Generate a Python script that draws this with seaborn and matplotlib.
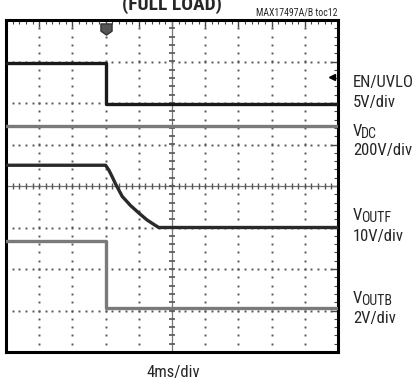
#!/usr/bin/env python3
# Scope capture: EN/UVLO, VDC, VOUTF and VOUTB at shutdown (full load).
import numpy as np
import matplotlib
matplotlib.use("Agg")
import matplotlib.pyplot as plt
from matplotlib import font_manager
from matplotlib.path import Path
import seaborn as sns

# Traces in screen divisions (x: -5..5 div at 4ms/div, y: -4..4 div)
EN_T = [-5.0, -2.0, -2.0, 5.0]
EN_Y = [2.97, 2.97, 1.97, 1.97]

VDC_T = [-5.0, 5.0]
VDC_Y = [1.45, 1.45]

VOUTF_T = [-5.0, -2.0, -1.9, -1.8, -1.7, -1.5, -1.25, -1.0, -0.75, -0.5, -0.4, 5.0]
VOUTF_Y = [0.5, 0.5, 0.38, 0.22, 0.05, -0.25, -0.47, -0.65, -0.82, -0.95, -1.0, -1.0]

VOUTB_T = [-5.0, -2.0, -2.0, 5.0]
VOUTB_Y = [-1.33, -1.33, -2.95, -2.95]

TRIGGER_T = -2.0

sns.set_style("white")
names = {f.name for f in font_manager.fontManager.ttflist}
NARROW = "Liberation Sans"
for cand in ("Roboto Condensed", "Liberation Sans Narrow", "Archivo Narrow",
             "Barlow Semi Condensed", "Asap Condensed"):
    if cand in names:
        NARROW = cand
        break
plt.rcParams["font.family"] = [NARROW, "DejaVu Sans"]

W, H = 417, 384
fig = plt.figure(figsize=(W / 100, H / 100), dpi=100)
L, R, T, B = 6, 338, 20, 352
ax = fig.add_axes([L / W, 1 - B / H, (R - L) / W, (B - T) / H])
ax.set_xlim(-5, 5)
ax.set_ylim(-4, 4)

# dotted graticule
sub_y = np.arange(-4, 4.001, 0.2)
sub_x = np.arange(-5, 5.001, 0.2)
for gx in range(-4, 5):
    if gx == 0:
        continue
    ax.plot(np.full_like(sub_y, gx), sub_y, ls="none", marker="s",
            ms=1.4, mew=0, color="#555555", zorder=1)
for gy in range(-3, 4):
    if gy == 0:
        continue
    ax.plot(sub_x, np.full_like(sub_x, gy), ls="none", marker="s",
            ms=1.4, mew=0, color="#555555", zorder=1)

# centre axes with tick marks
ax.axvline(0, color="#777777", lw=0.9, zorder=1)
ax.axhline(0, color="#777777", lw=0.9, zorder=1)
ax.plot(np.zeros_like(sub_y), sub_y, ls="none", marker="_", ms=5,
        mew=1.2, color="#555555", zorder=1)
ax.plot(sub_x, np.zeros_like(sub_x), ls="none", marker="|", ms=5,
        mew=1.0, color="#555555", zorder=1)

# edge ticks
ax.set_xticks(range(-5, 6))
ax.set_yticks(range(-4, 5))
ax.set_xticks(sub_x, minor=True)
ax.set_yticks(sub_y, minor=True)
ax.tick_params(which="both", direction="in", top=True, right=True,
               labelbottom=False, labelleft=False, color="#444444")
ax.tick_params(which="major", length=5, width=1.0)
ax.tick_params(which="minor", length=3, width=0.8)
for s in ax.spines.values():
    s.set_linewidth(2.2)
    s.set_color("black")

# traces
sns.lineplot(x=VDC_T, y=VDC_Y, estimator=None, sort=False, ax=ax,
             color="#7a7a7a", lw=2.4, zorder=3)
sns.lineplot(x=VOUTB_T, y=VOUTB_Y, estimator=None, sort=False, ax=ax,
             color="#7a7a7a", lw=2.4, zorder=3)
sns.lineplot(x=EN_T, y=EN_Y, estimator=None, sort=False, ax=ax,
             color="#1a1a1a", lw=2.4, zorder=4)
sns.lineplot(x=VOUTF_T, y=VOUTF_Y, estimator=None, sort=False, ax=ax,
             color="#2a2a2a", lw=2.4, zorder=4)

# trigger marker and channel marker
shield = Path([(-1, 1), (1, 1), (1, -0.3), (0, -1), (-1, -0.3), (-1, 1)],
              [Path.MOVETO, Path.LINETO, Path.LINETO, Path.LINETO,
               Path.LINETO, Path.CLOSEPOLY])
ax.plot([TRIGGER_T], [3.78], marker=shield, ms=8, color="#555555",
        mec="#333333", ls="none", zorder=5, clip_on=False)
ax.plot([4.82], [2.62], marker="<", ms=5, color="black", ls="none", zorder=5)

# texts
def ftext(px, py, s, **kw):
    return fig.text(px / W, 1 - py / H, s, **kw)

renderer = fig.canvas.get_renderer()


def vlabel(px, base, sub):
    # "V" with a smaller, slightly lowered subscript
    t = ftext(px, base, "V", ha="left", va="baseline", fontsize=12)
    vw = t.get_window_extent(renderer).width
    ftext(px + vw - 1.0, base + 2, sub, ha="left", va="baseline", fontsize=10)


ftext(172, 10, "(FULL LOAD)", ha="center", va="baseline", fontsize=14,
      fontweight="bold")
ftext(338, 13, "MAX17497A/B toc12", ha="right", va="center", fontsize=7)
lab = dict(ha="left", va="center", fontsize=12)
ftext(353, 82, "EN/UVLO", **lab)
ftext(353, 102, "5V/div", **lab)
vlabel(353, 136, "DC")
ftext(353, 150, "200V/div", **lab)
vlabel(353, 220, "OUTF")
ftext(353, 237, "10V/div", **lab)
vlabel(353, 303, "OUTB")
ftext(353, 318, "2V/div", **lab)
ftext(173, 373, "4ms/div", ha="center", va="center", fontsize=12)

fig.savefig("out.png", dpi=100)
